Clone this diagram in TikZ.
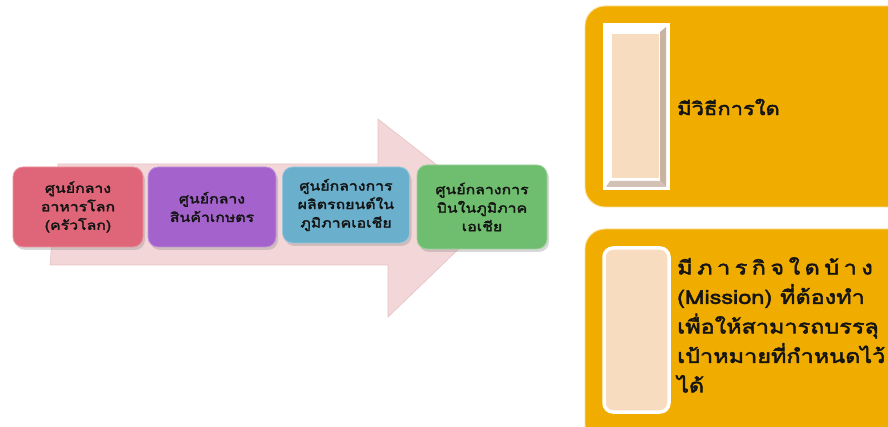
\documentclass[tikz,border=0pt]{standalone}
\usepackage{fontspec}
\newfontfamily\thai[Script=Thai, FakeBold=2.4, FakeStretch=1.22]{Loma}
\usetikzlibrary{shadows}
\definecolor{arrowfill}{HTML}{F3D6D7}
\definecolor{arrowedge}{HTML}{E6C2C4}
\definecolor{cpink}{HTML}{DF6678}
\definecolor{cpurple}{HTML}{A463CC}
\definecolor{cblue}{HTML}{6AAFCB}
\definecolor{cgreen}{HTML}{6FBE6F}
\definecolor{corange}{HTML}{F0AD00}
\definecolor{cpeach}{HTML}{F8DCBF}
\definecolor{cbevel}{HTML}{C9B2A2}
\definecolor{ctext}{HTML}{141414}
\tikzset{
  stepbox/.style={rounded corners=10pt, line width=0.8pt, align=center,
    text=ctext, font=\thai\fontsize{13}{18.5}\selectfont,
    drop shadow={opacity=0.3, shadow xshift=2pt, shadow yshift=-3pt}},
  orangebox/.style={fill=corange, draw=corange!40!white, line width=0.9pt, rounded corners=20pt},
  bigtext/.style={text=ctext, align=left, inner sep=0pt}
}
\begin{document}
\begin{tikzpicture}[x=1pt,y=-1pt]
\clip (0,0) rectangle (888,427);
\fill[white] (0,0) rectangle (888,427);
% big arrow
\path[fill=arrowfill, draw=arrowedge, line width=0.6pt]
  (58,164) -- (378,164) -- (378,119) -- (497,212) -- (388,317) -- (388,265) -- (50,265) -- cycle;
% process boxes
\node[stepbox, fill=cpink, draw=cpink!70!white, minimum width=130pt, minimum height=80pt] (b1) at (78,207)
  {ศูนย์กลาง\\อาหารโลก\\(ครัวโลก)};
\node[stepbox, fill=cpurple, draw=cpurple!70!white, minimum width=128pt, minimum height=80pt] (b2) at (212,207)
  {ศูนย์กลาง\\สินค้าเกษตร};
\node[stepbox, fill=cblue, draw=cblue!70!white, minimum width=127pt, minimum height=76pt] (b3) at (346,205)
  {ศูนย์กลางการ\\ผลิตรถยนต์ใน\\ภูมิภาคเอเชีย};
\node[stepbox, fill=cgreen, draw=cgreen!70!white, minimum width=130pt, minimum height=84pt] (b4) at (482,207)
  {ศูนย์กลางการ\\บินในภูมิภาค\\เอเชีย};
% right panel A
\draw[orangebox] (585,6) rectangle (930,207);
\fill[white] (603,23) rectangle (670,190);
\fill[cbevel] (660,32) -- (666,27) -- (666,187) -- (660,181) -- cycle;
\fill[cbevel!80!white] (610,181) -- (660,181) -- (666,187) -- (606,187) -- cycle;
\fill[cpeach, draw=white, line width=1pt] (611,34) rectangle (659,179);
\node[bigtext, anchor=west, font=\thai\fontsize{18}{20}\selectfont] (ta) at (677,107) {มีวิธีการใด};
% right panel B
\draw[orangebox] (585,229) rectangle (930,445);
\draw[fill=cpeach, draw=white, line width=3.5pt, rounded corners=9pt] (604,248) rectangle (669,412);
\node[bigtext, anchor=north west, font=\thai\fontsize{19.2}{29.5}\selectfont] (tb) at (677,257)
  {มี\hspace{4.5pt}ภ\hspace{4.5pt}า\hspace{4.5pt}ร\hspace{4.5pt}กิ\hspace{4.5pt}จ\hspace{4.5pt}ใ\hspace{4.5pt}ด\hspace{4.5pt}บ้\hspace{4.5pt}า\hspace{4.5pt}ง\\
   (Mission) ที่ต้องทำ\\
   เพื่อให้สามารถบรรลุ\\
   เป้าหมายที่กำหนดไว้\\
   ได้};
\end{tikzpicture}
\end{document}
